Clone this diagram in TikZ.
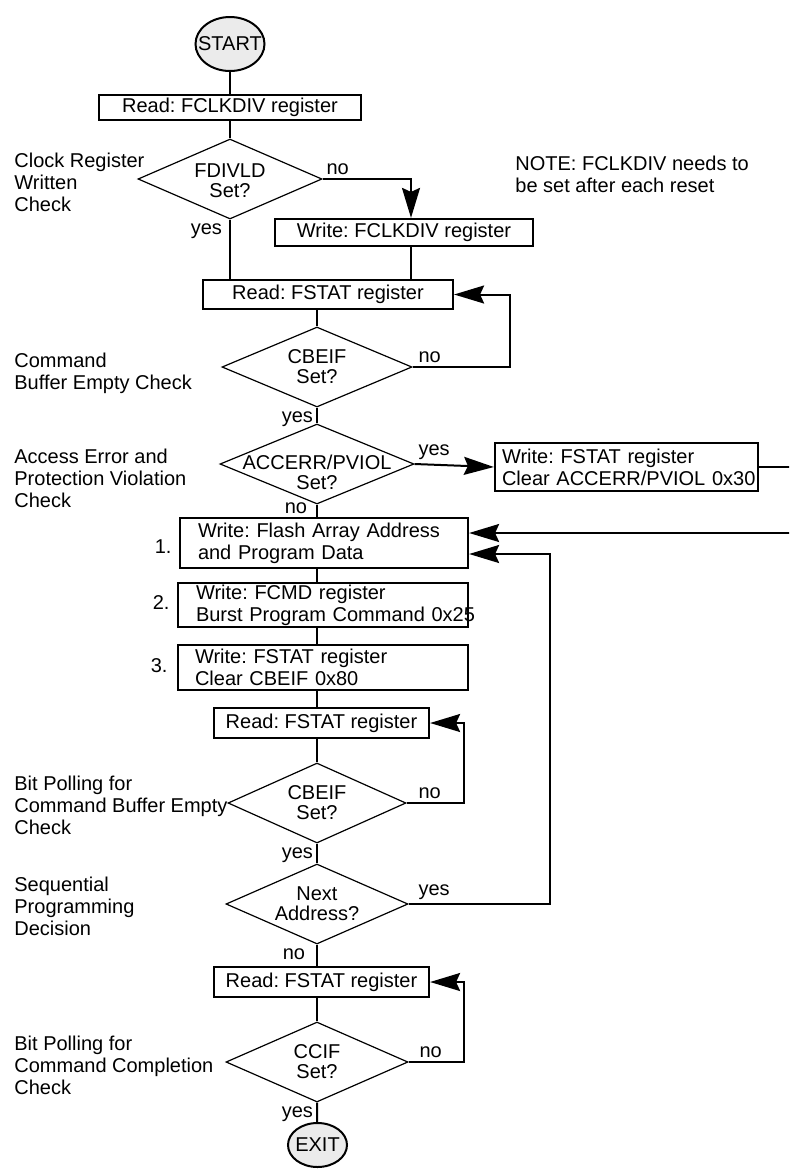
\documentclass[tikz,border=0pt]{standalone}
\usepackage{fontspec}
\setmainfont{Liberation Sans}
\usetikzlibrary{positioning,arrows.meta,shapes.geometric}
\definecolor{termfill}{HTML}{EBEBEB}

\begin{document}
\frenchspacing
\begin{tikzpicture}[x=0.5pt,y=-0.5pt,font=\fontsize{10}{11}\selectfont,
  rbox/.style={draw,line width=1.1pt,inner sep=0pt},
  wbox/.style={draw,line width=1.1pt,align=left,inner ysep=0pt},
  dec/.style={diamond,draw,line width=0.6pt,inner sep=0pt,minimum height=40pt,minimum width=#1},
  dtxt/.style={align=center,inner sep=0pt,font=\fontsize{10}{10}\selectfont},
  term/.style={ellipse,draw,line width=1pt,fill=termfill,inner sep=0pt},
  line/.style={line width=1pt},
  arr/.style={line width=1pt,-{Stealth[length=15pt,width=9pt,inset=2pt]}},
  lab/.style={inner sep=1.5pt},
  side/.style={align=left,anchor=west,inner sep=0pt}]
\useasboundingbox (0,0) rectangle (789,1169);
\clip (0,0) rectangle (789,1169);
% main column
\node[term,minimum width=34.5pt,minimum height=27pt,label=center:START] (start) at (230,44) {};
\node[rbox,minimum width=131pt,minimum height=12.5pt] (rclk) at (230,107.5) {Read: FCLKDIV register};
\node[dec=92pt,label={[dtxt,yshift=-1pt]center:FDIVLD\\Set?}] (fdivld) at (230,179) {};
\node[rbox,minimum width=129pt,minimum height=13.5pt] (wclk) at (404,232.5) {Write: FCLKDIV register};
\node[rbox,minimum width=125pt,minimum height=14.5pt] (rst1) at (328,294.5) {Read: FSTAT register};
\node[dec=95pt,label={[dtxt]center:CBEIF\\Set?}] (cb1) at (317,367) {};
\node[dec=97pt,label={[dtxt,yshift=-4pt]center:ACCERR/PVIOL\\Set?}] (acc) at (317,464) {};
\node[wbox,text width=124.5pt,inner xsep=3.5pt,minimum height=24pt] (wacc) at (626.5,467)
  {Write: FSTAT register\\\mbox{Clear ACCERR/PVIOL 0x30}};
\node[wbox,text width=126pt,inner xsep=9pt,minimum height=25pt] (flash) at (324,543)
  {Write: Flash Array Address\\and Program Data};
\node[wbox,text width=127pt,inner xsep=9pt,minimum height=22pt] (fcmd) at (323,605)
  {Write: FCMD register\\\mbox{Burst Program Command 0x25}};
\node[wbox,text width=128pt,inner xsep=8.5pt,minimum height=22.5pt] (fclr) at (323,667.5)
  {Write: FSTAT register\\Clear CBEIF 0x80};
\node[rbox,minimum width=107.5pt,minimum height=15pt] (rst2) at (321.5,723) {Read: FSTAT register};
\node[dec=89pt,label={[dtxt]center:CBEIF\\Set?}] (cb2) at (317,803) {};
\node[dec=91pt,label={[dtxt]center:Next\\Address?}] (next) at (317,904) {};
\node[rbox,minimum width=107.5pt,minimum height=15pt] (rst3) at (321.5,982) {Read: FSTAT register};
\node[dec=91pt,label={[dtxt]center:CCIF\\Set?}] (ccif) at (317,1062) {};
\node[term,minimum width=29.5pt,minimum height=22pt,label=center:EXIT] (exit) at (317.5,1145) {};
% step numbers
\node[lab,left=2pt of flash,yshift=-2pt] (n1) {1.};
\node[lab,left=2pt of fcmd,yshift=1pt] (n2) {2.};
\node[lab,left=3pt of fclr,yshift=1pt] (n3) {3.};
% side notes
\node[side] (lclk) at (14,182) {Clock Register\\Written\\Check};
\node[side] (lcbe) at (14,373) {Command\\Buffer Empty Check};
\node[side] (lacc) at (14,478) {Access Error and\\Protection Violation\\Check};
\node[side] (lbpe) at (14,805) {Bit Polling for\\Command Buffer Empty\\Check};
\node[side] (lseq) at (14,906) {Sequential\\Programming\\Decision};
\node[side] (lbpc) at (14,1065) {Bit Polling for\\Command Completion\\Check};
\node[side] (note) at (515,174.5) {NOTE: FCLKDIV needs to\\be set after each reset};
% connectors
\coordinate (ax) at (317,0);
\coordinate (nojog) at (411,179);
\draw[line] (start) -- (rclk);
\draw[line] (rclk) -- (fdivld);
\draw[arr] (fdivld.east) node[lab,above right] {no} -- (nojog) -- (nojog |- wclk.north);
\draw[line] (fdivld.south) node[lab,below left,xshift=-2pt] {yes} -- (fdivld.south |- rst1.north);
\draw[line] (wclk.south -| nojog) -- (rst1.north -| nojog);
\draw[line] (rst1.south -| ax) -- (cb1.north);
\draw[arr] (cb1.east) node[lab,above right,xshift=1pt] {no} -- ++(97,0) |- (rst1.east);
\draw[line] (cb1.south) node[lab,below left] {yes} -- (acc.north);
\draw[arr] (acc.east) node[lab,above right] {yes} -- (wacc.west);
\draw[arr] (wacc.east) -- ++(42,0) |- ([yshift=5pt]flash.east);
\draw[line] (acc.south) node[lab,below left,xshift=-3pt,yshift=3pt] {no} -- (flash.north -| ax);
\draw[line] (flash.south -| ax) -- (fcmd.north -| ax);
\draw[line] (fcmd.south -| ax) -- (fclr.north -| ax);
\draw[line] (fclr.south -| ax) -- (rst2.north -| ax);
\draw[line] (rst2.south -| ax) -- (cb2.north);
\draw[arr] (cb2.east) node[lab,above right,xshift=4pt] {no} -- ++(57,0) |- (rst2.east);
\draw[line] (cb2.south) node[lab,below left] {yes} -- (next.north);
\draw[arr] (next.east) node[lab,above right,xshift=3pt] {yes} -- ++(141,0) |- ([yshift=-5.5pt]flash.east);
\draw[line] (next.south) node[lab,below left,xshift=-4pt] {no} -- (rst3.north -| ax);
\draw[line] (rst3.south -| ax) -- (ccif.north);
\draw[arr] (ccif.east) node[lab,above right,xshift=3.5pt] {no} -- ++(55,0) |- (rst3.east);
\draw[line] (ccif.south) node[lab,below left] {yes} -- (exit);
\end{tikzpicture}
\end{document}
